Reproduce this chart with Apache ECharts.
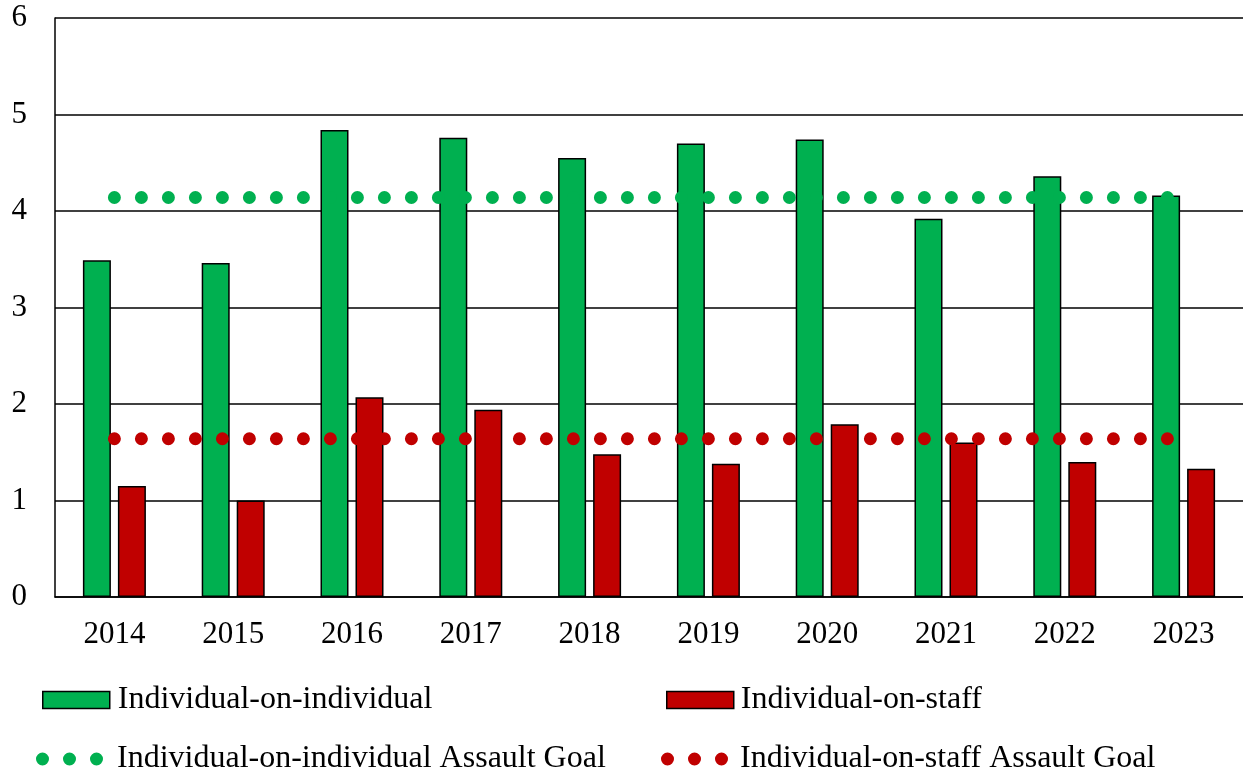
<!DOCTYPE html>
<html>
<head>
<meta charset="utf-8">
<script src="https://cdn.jsdelivr.net/npm/echarts@6/dist/echarts.min.js"></script>
<style>
  html, body { margin: 0; padding: 0; background: #fff; }
  #chart { width: 1243px; height: 773px; }
</style>
</head>
<body>
<div id="chart"></div>
<script>
var years = ['2014', '2015', '2016', '2017', '2018', '2019', '2020', '2021', '2022', '2023'];
var onIndividual = [3.49, 3.46, 4.84, 4.76, 4.55, 4.70, 4.74, 3.92, 4.36, 4.16];
var onStaff = [1.15, 1.00, 2.07, 1.94, 1.48, 1.38, 1.79, 1.60, 1.40, 1.33];
var onIndividualGoal = [4.14, 4.14, 4.14, 4.14, 4.14, 4.14, 4.14, 4.14, 4.14, 4.14];
var onStaffGoal = [1.64, 1.64, 1.64, 1.64, 1.64, 1.64, 1.64, 1.64, 1.64, 1.64];
var yTicks = { min: 0, max: 6, step: 1 };

var names = [
    'Individual-on-individual',
    'Individual-on-staff',
    'Individual-on-individual Assault Goal',
    'Individual-on-staff Assault Goal'
];
var green = '#00B050';
var red = '#C00000';
var font = 'Liberation Serif';

// three dots icon for the goal lines
var dots = 'path://M0,6.5a6.5,6.5 0 1,0 13,0a6.5,6.5 0 1,0 -13,0Z' +
    'M27,6.5a6.5,6.5 0 1,0 13,0a6.5,6.5 0 1,0 -13,0Z' +
    'M54,6.5a6.5,6.5 0 1,0 13,0a6.5,6.5 0 1,0 -13,0Z';

function legendText(padLeft) {
    return { color: '#000', fontSize: 32, fontFamily: font, padding: [0, 0, 0, padLeft] };
}

var mychart = echarts.init(document.getElementById('chart'));
var option = {
    animation: false,
    textStyle: { fontFamily: font },
    grid: { left: 55, right: -1, top: 18, bottom: 176, containLabel: false },
    legend: [
        { left: 42, top: 684, padding: 0, itemWidth: 67, itemHeight: 17, icon: 'rect', data: [names[0]], textStyle: legendText(3),
          itemStyle: { borderColor: '#000', borderWidth: 1.5 } },
        { left: 666, top: 684, padding: 0, itemWidth: 67, itemHeight: 17, icon: 'rect', data: [names[1]], textStyle: legendText(2),
          itemStyle: { borderColor: '#000', borderWidth: 1.5 } },
        { left: 36, top: 743, padding: 0, itemWidth: 67, itemHeight: 13, icon: dots, data: [names[2]], textStyle: legendText(9) },
        { left: 661, top: 743, padding: 0, itemWidth: 67, itemHeight: 13, icon: dots, data: [names[3]], textStyle: legendText(7) }
    ],
    xAxis: {
        type: 'category',
        data: years,
        axisLine: { show: true, lineStyle: { color: '#000', width: 1.5 } },
        axisTick: { show: false },
        axisLabel: { color: '#000', fontSize: 31, fontFamily: font, margin: 22 }
    },
    yAxis: {
        type: 'value',
        min: yTicks.min,
        max: yTicks.max,
        interval: yTicks.step,
        axisLine: { show: true, lineStyle: { color: '#000', width: 1.5 } },
        axisTick: { show: false },
        splitLine: { show: true, lineStyle: { color: '#000', width: 1.5 } },
        axisLabel: { color: '#000', fontSize: 31, fontFamily: font, margin: 28 }
    },
    series: [
        {
            name: names[0], type: 'bar', data: onIndividual,
            barWidth: 28, barGap: '25%',
            itemStyle: { color: green, borderColor: '#000', borderWidth: 1.5 }
        },
        {
            name: names[1], type: 'bar', data: onStaff,
            barWidth: 28, barGap: '25%',
            itemStyle: { color: red, borderColor: '#000', borderWidth: 1.5 }
        },
        {
            name: names[2], type: 'line', data: onIndividualGoal,
            symbol: 'none', z: 5,
            itemStyle: { color: green },
            lineStyle: { color: green, width: 13, type: [0, 27], cap: 'round' }
        },
        {
            name: names[3], type: 'line', data: onStaffGoal,
            symbol: 'none', z: 5,
            itemStyle: { color: red },
            lineStyle: { color: red, width: 13, type: [0, 27], cap: 'round' }
        }
    ]
};
mychart.setOption(option, true);
</script>
</body>
</html>
